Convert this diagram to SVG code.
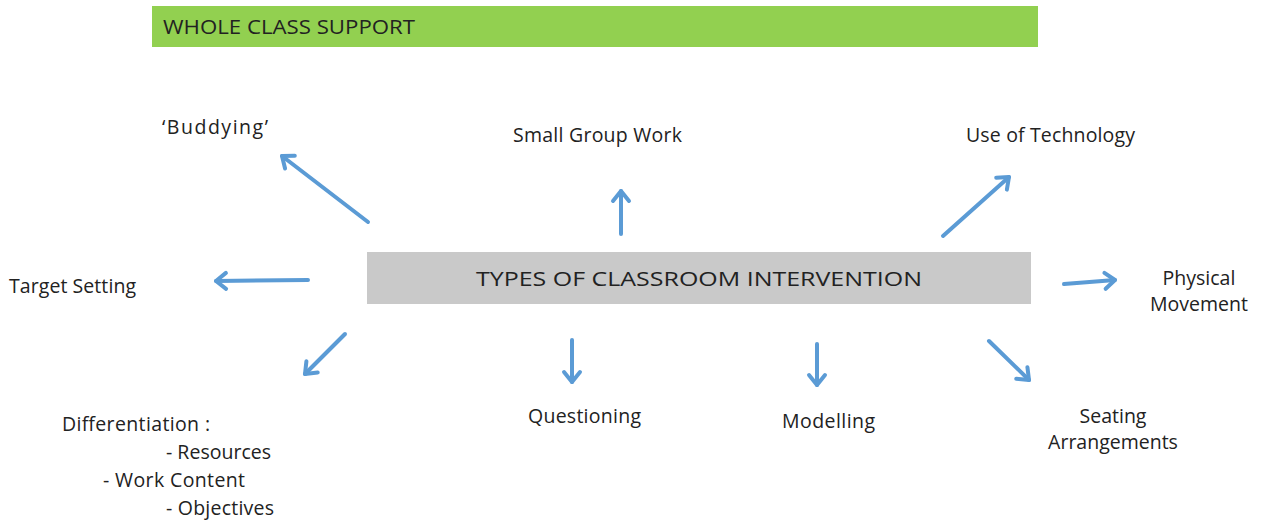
<svg xmlns="http://www.w3.org/2000/svg" width="1261" height="521" viewBox="0 0 1261 521">
<style>
.t{font-family:"Open Sans","Liberation Sans",sans-serif;font-size:19.5px;fill:#222;}
.c{text-anchor:middle;}
.arr{stroke:#5B9BD5;stroke-width:4;fill:none;stroke-linecap:round;marker-end:url(#ah);}
</style>
<defs>
<marker id="ah" markerUnits="userSpaceOnUse" viewBox="-14 -12 18 24" refX="0" refY="0" markerWidth="18" markerHeight="24" orient="auto">
<path d="M-10,-8 L0,0 L-10,8" fill="none" stroke="#5B9BD5" stroke-width="4" stroke-linecap="round" stroke-linejoin="round"/>
</marker>
</defs>
<rect width="1261" height="521" fill="#fff"/>
<g id="whole-class">
<rect x="152" y="6" width="886" height="41" fill="#92D050"/>
<text class="t" x="163" y="34" font-size="21" textLength="252" lengthAdjust="spacingAndGlyphs">WHOLE CLASS SUPPORT</text>
</g>
<g id="center">
<rect x="367" y="252" width="664" height="52" fill="#C9C9C9"/>
<text class="t" x="699" y="286" font-size="24" text-anchor="middle" textLength="446" lengthAdjust="spacingAndGlyphs">TYPES OF CLASSROOM INTERVENTION</text>
</g>
<g id="buddying"><text class="t" x="162" y="134" font-size="21.5" textLength="106">‘Buddying’</text></g>
<g id="small-group"><text class="t" x="513" y="142" textLength="169">Small Group Work</text></g>
<g id="technology"><text class="t" x="966" y="142" textLength="169">Use of Technology</text></g>
<g id="target"><text class="t" x="9" y="293" textLength="127">Target Setting</text></g>
<g id="physical"><text class="t c" x="1199" y="285">Physical</text><text class="t c" x="1199" y="311">Movement</text></g>
<g id="differentiation">
<text class="t" x="62" y="431" textLength="148">Differentiation :</text>
<text class="t" x="166" y="459" textLength="105">- Resources</text>
<text class="t" x="103" y="487" textLength="142">- Work Content</text>
<text class="t" x="166" y="515" textLength="108">- Objectives</text>
</g>
<g id="questioning"><text class="t" x="528" y="423" textLength="113">Questioning</text></g>
<g id="modelling"><text class="t" x="782" y="428" textLength="93">Modelling</text></g>
<g id="seating"><text class="t c" x="1113" y="423">Seating</text><text class="t c" x="1113" y="449">Arrangements</text></g>
<g id="connectors">
<line class="arr" x1="368" y1="222" x2="282" y2="156"/>
<line class="arr" x1="621" y1="234" x2="621" y2="191"/>
<line class="arr" x1="943" y1="236" x2="1009" y2="177"/>
<line class="arr" x1="308" y1="280" x2="216" y2="281"/>
<line class="arr" x1="1064" y1="284" x2="1115" y2="280"/>
<line class="arr" x1="345" y1="334" x2="305" y2="374"/>
<line class="arr" x1="572" y1="340" x2="572" y2="382"/>
<line class="arr" x1="817" y1="344" x2="817" y2="385"/>
<line class="arr" x1="989" y1="341" x2="1029" y2="380"/>
</g>
</svg>
